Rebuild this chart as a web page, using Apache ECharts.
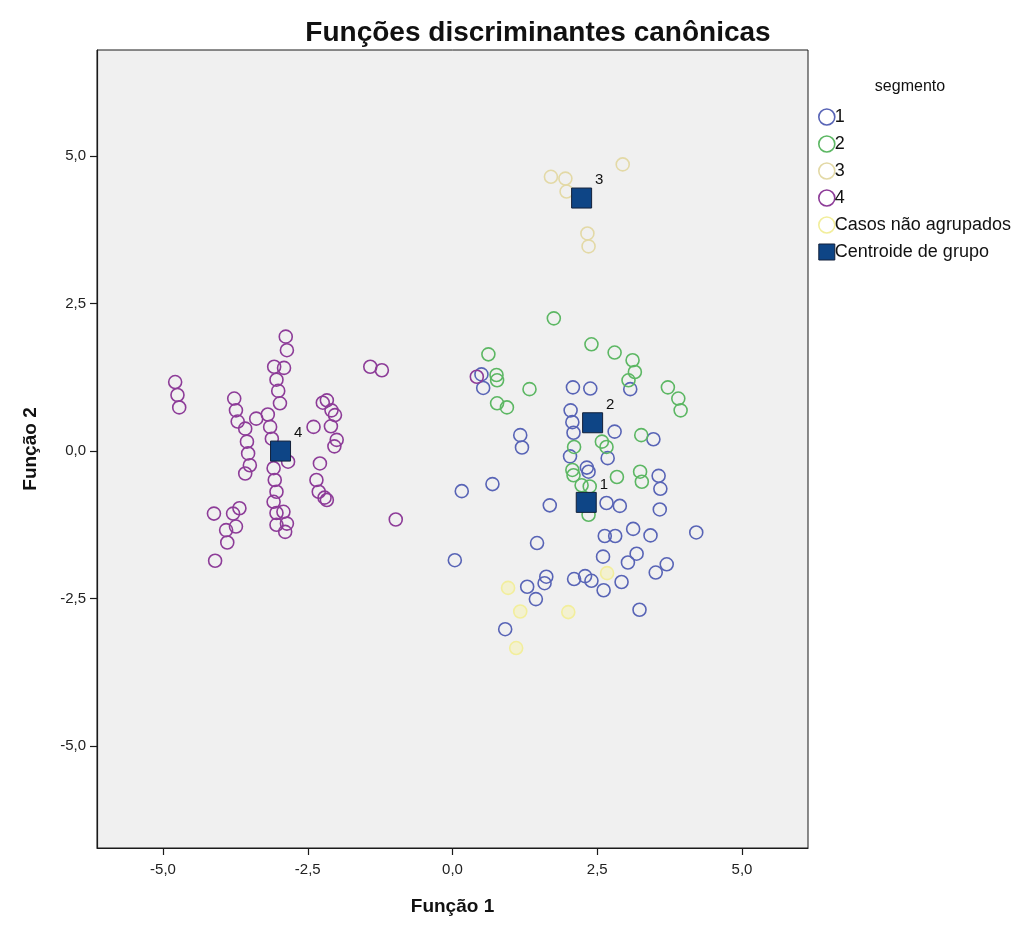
<!DOCTYPE html>
<html>
<head>
<meta charset="utf-8">
<script src="https://cdn.jsdelivr.net/npm/echarts@6/dist/echarts.min.js"></script>
<style>
html,body{margin:0;padding:0;background:#fff;}
#chart{width:1027px;height:934px;}
</style>
</head>
<body>
<div id="chart"></div>
<script>
// ---- data ----
const TICKS = [-5, -2.5, 0, 2.5, 5];
const X_EXTENT = [-6.14, 6.14];
const Y_EXTENT = [-6.73, 6.8];

const LEGEND_NAMES = ['1', '2', '3', '4', 'Casos não agrupados', 'Centroide de grupo'];

const GROUP1 = [
  [0.50, 1.30], [0.53, 1.07], [2.08, 1.08], [2.38, 1.06], [3.07, 1.05],
  [2.04, 0.69], [2.07, 0.49], [2.09, 0.31], [1.17, 0.27], [1.20, 0.06],
  [2.80, 0.33], [3.47, 0.20], [2.68, -0.12], [2.03, -0.09], [2.32, -0.28],
  [2.35, -0.35], [3.56, -0.42], [3.59, -0.64], [0.16, -0.68], [0.69, -0.56],
  [1.68, -0.92], [2.66, -0.88], [2.89, -0.93], [3.58, -0.99], [3.12, -1.32],
  [3.42, -1.43], [2.63, -1.44], [2.81, -1.44], [4.21, -1.38], [1.46, -1.56],
  [0.04, -1.85], [2.60, -1.79], [3.18, -1.74], [3.03, -1.89], [3.70, -1.92],
  [3.51, -2.06], [1.62, -2.13], [1.59, -2.24], [1.29, -2.30], [1.44, -2.51],
  [2.10, -2.17], [2.29, -2.12], [2.40, -2.20], [2.61, -2.36], [2.92, -2.22],
  [3.23, -2.69], [0.91, -3.02]
];

const GROUP2 = [
  [1.75, 2.25], [2.40, 1.81], [2.80, 1.67], [0.62, 1.64], [3.11, 1.54],
  [3.15, 1.34], [3.04, 1.20], [0.76, 1.29], [0.77, 1.20], [1.33, 1.05],
  [0.77, 0.81], [0.94, 0.74], [3.72, 1.08], [3.90, 0.89], [3.94, 0.69],
  [3.26, 0.27], [2.58, 0.16], [2.66, 0.07], [2.10, 0.07], [2.84, -0.44],
  [3.24, -0.35], [3.27, -0.52], [2.07, -0.32], [2.09, -0.41], [2.23, -0.58],
  [2.37, -0.60], [2.35, -1.08]
];

const GROUP3 = [
  [1.70, 4.65], [1.95, 4.62], [1.97, 4.40], [2.94, 4.86], [2.33, 3.69], [2.35, 3.47]
];

const GROUP4 = [
  [-2.88, 1.94], [-2.86, 1.71], [-3.08, 1.43], [-2.91, 1.41], [-3.04, 1.21],
  [-3.01, 1.02], [-2.98, 0.81], [-4.79, 1.17], [-4.75, 0.95], [-4.72, 0.74],
  [-3.77, 0.89], [-3.74, 0.69], [-3.71, 0.50], [-3.58, 0.38], [-3.55, 0.16],
  [-3.53, -0.04], [-3.50, -0.24], [-3.58, -0.38], [-3.39, 0.55], [-3.19, 0.62],
  [-3.15, 0.41], [-3.12, 0.21], [-2.84, -0.18], [-3.09, -0.29], [-3.07, -0.49],
  [-3.04, -0.69], [-3.09, -0.86], [-2.92, -1.03], [-3.04, -1.05], [-2.86, -1.23],
  [-3.04, -1.25], [-2.89, -1.37], [-4.12, -1.06], [-3.79, -1.06], [-3.68, -0.97],
  [-3.74, -1.28], [-3.91, -1.34], [-3.89, -1.55], [-4.10, -1.86], [-2.17, 0.86],
  [-2.24, 0.82], [-2.09, 0.69], [-2.03, 0.61], [-2.10, 0.42], [-2.40, 0.41],
  [-2.00, 0.19], [-2.04, 0.08], [-2.29, -0.21], [-2.35, -0.49], [-2.31, -0.69],
  [-2.17, -0.83], [-2.21, -0.79], [-1.42, 1.43], [-1.22, 1.37], [-0.98, -1.16],
  [0.42, 1.26]
];

const UNGROUPED = [
  [0.96, -2.32], [1.17, -2.72], [1.10, -3.34], [2.00, -2.73], [2.67, -2.07]
];

const CENTROIDS = [
  [2.31, -0.87], [2.42, 0.48], [2.23, 4.29], [-2.97, 0.00]
];
const CENTROID_LABELS = ['1', '2', '3', '4'];

// ---- styles ----
const COLORS = ['#5864b6', '#5cb763', '#e3d9a6', '#8d3c98', '#f2ee9c', '#0e4586'];
const FONT = '"Liberation Sans", Arial, sans-serif';

function hollow(name, data, color, z, fill) {
  return {
    name: name, type: 'scatter', data: data, symbol: 'circle', symbolSize: 13, z: z,
    itemStyle: { color: fill || 'rgba(0,0,0,0)', borderColor: color, borderWidth: 1.6, opacity: 1 },
    emphasis: { disabled: true }
  };
}

const chart = echarts.init(document.getElementById('chart'), null, { renderer: 'canvas' });

const fmt = v => v.toFixed(1).replace('.', ',');

const option = {
  animation: false,
  backgroundColor: '#ffffff',
  textStyle: { fontFamily: FONT },
  title: [
    { text: 'Funções discriminantes canônicas', left: 533, top: 14, textAlign: 'center',
      textStyle: { fontFamily: FONT, fontSize: 28, fontWeight: 'bold', color: '#111' } },
    { text: 'segmento', left: 905, top: 74, textAlign: 'center',
      textStyle: { fontFamily: FONT, fontSize: 16, fontWeight: 'normal', color: '#111' } }
  ],
  legend: {
    orient: 'vertical', left: 813, top: 103, itemWidth: 16, itemHeight: 16, itemGap: 9,
    textStyle: { fontFamily: FONT, fontSize: 18, color: '#111', padding: [0, 0, 0, -5] },
    selectedMode: false,
    data: LEGEND_NAMES.map((n, i) => i < 5
      ? { name: n, icon: 'circle', itemStyle: { color: 'rgba(0,0,0,0)', borderColor: COLORS[i], borderWidth: 1.6, opacity: 1 } }
      : { name: n, icon: 'rect', itemStyle: { color: COLORS[5], borderColor: '#12203a', borderWidth: 1, opacity: 1 } })
  },
  grid: {
    left: 97, top: 50, width: 711, height: 798, show: true,
    backgroundColor: '#f0f0f0', borderColor: '#1a1a1a', borderWidth: 1
  },
  xAxis: {
    type: 'value', min: X_EXTENT[0], max: X_EXTENT[1], position: 'bottom',
    name: 'Função 1', nameLocation: 'middle', nameGap: 49,
    nameTextStyle: { fontFamily: FONT, fontSize: 19, fontWeight: 'bold', color: '#111' },
    axisLine: { onZero: false, lineStyle: { color: '#1a1a1a', width: 1.2 } },
    axisTick: { show: true, customValues: TICKS, length: 7, lineStyle: { color: '#1a1a1a', width: 1.2 } },
    axisLabel: { customValues: TICKS, formatter: fmt, fontFamily: FONT, fontSize: 15, color: '#222', margin: 14 },
    splitLine: { show: false }
  },
  yAxis: {
    type: 'value', min: Y_EXTENT[0], max: Y_EXTENT[1], position: 'left',
    name: 'Função 2', nameLocation: 'middle', nameGap: 57, nameRotate: 90,
    nameTextStyle: { fontFamily: FONT, fontSize: 19, fontWeight: 'bold', color: '#111' },
    axisLine: { onZero: false, lineStyle: { color: '#1a1a1a', width: 1.2 } },
    axisTick: { show: true, customValues: TICKS, length: 7, lineStyle: { color: '#1a1a1a', width: 1.2 } },
    axisLabel: { customValues: TICKS, formatter: fmt, fontFamily: FONT, fontSize: 15, color: '#222', margin: 11 },
    splitLine: { show: false }
  },
  series: [
    hollow('1', GROUP1, COLORS[0], 3),
    hollow('2', GROUP2, COLORS[1], 4),
    hollow('3', GROUP3, COLORS[2], 2),
    hollow('4', GROUP4, COLORS[3], 3),
    hollow('Casos não agrupados', UNGROUPED, COLORS[4], 1, 'rgba(246,242,168,0.45)'),
    {
      name: 'Centroide de grupo', type: 'scatter', symbol: 'rect', symbolSize: 20, z: 10,
      data: CENTROIDS.map((c, i) => ({ value: c, name: CENTROID_LABELS[i] })),
      itemStyle: { color: COLORS[5], borderColor: '#12203a', borderWidth: 1, opacity: 1 },
      label: { show: true, formatter: '{b}', position: [24, -15], fontFamily: FONT, fontSize: 15, color: '#111' },
      emphasis: { disabled: true }
    }
  ]
};
chart.setOption(option);
</script>
</body>
</html>
